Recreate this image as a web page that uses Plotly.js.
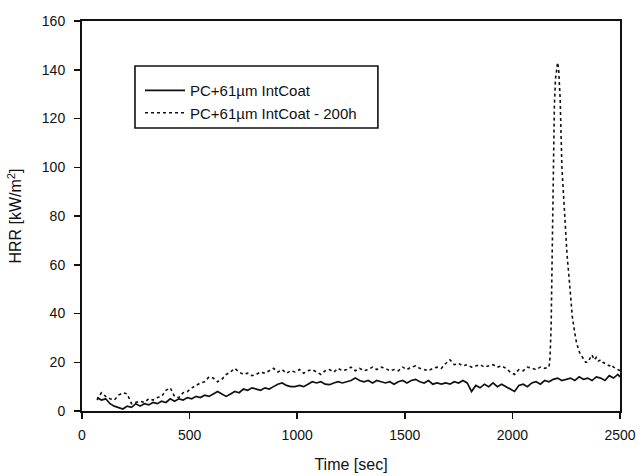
<!DOCTYPE html>
<html>
<head>
<meta charset="utf-8">
<script src="https://cdn.plot.ly/plotly-3.0.1.min.js"></script>
<style>html,body{margin:0;padding:0;background:#fff;}#chart{width:640px;height:476px;}</style>
</head>
<body>
<div id="chart"></div>
<script>
// Series names
var seriesNames = ["PC+61\u00b5m IntCoat", "PC+61\u00b5m IntCoat - 200h"];

// Time values (s) for the unaged sample
var timeA = [70,90,110,130,150,170,190,210,230,250,270,290,310,330,350,370,390,410,430,450,
  470,490,510,530,550,570,590,610,630,650,670,690,710,730,750,770,790,810,830,850,
  870,890,910,930,950,970,990,1010,1030,1050,1070,1090,1110,1130,1150,1170,1190,1210,1230,1250,
  1270,1290,1310,1330,1350,1370,1390,1410,1430,1450,1470,1490,1510,1530,1550,1570,1590,1610,1630,1650,
  1670,1690,1710,1730,1750,1770,1790,1810,1830,1850,1870,1890,1910,1930,1950,1970,1990,2010,2030,2050,
  2070,2090,2110,2130,2150,2170,2190,2210,2230,2250,2270,2290,2310,2330,2350,2370,2390,2410,2430,2450,
  2470,2490,2500];
// HRR (kW/m2) for the unaged sample
var hrrA = [5.5,4.5,5,3,2,1.5,0.8,2,1.5,3,2,3,2.5,3.5,3,4,3.5,5,4,5,
  4.5,5.5,5,6,5.5,6.5,6,7,8,7,6,7,8,7.5,9,8.5,9.5,9,8.5,9.5,
  9,10,11,11.5,10.5,10,10,10.5,10,11,12,11.5,12,11,10.8,11.5,12,11.5,12,12.5,
  13.5,12.5,12,12.5,11.5,12.5,12,11.5,12,11,12,12.5,11.5,12.5,13,12,11.5,12.5,11,11.5,
  11,11.5,11,12,11.5,12.5,11.5,8,10.5,9.5,11,10,11.5,10,11,10,9,8,10.5,11,
  10,11.5,12,11,12.5,12,13,13.5,12.5,13,13.5,12.5,14,13,13.5,12.5,14,13.5,12.5,14.5,
  13.5,15,14];

// Time values (s) for the sample aged 200 h
var timeB = [70,90,110,130,150,170,190,210,230,250,270,290,310,330,350,370,390,410,430,450,
  470,490,510,530,550,570,590,610,630,650,670,690,710,730,750,770,790,810,830,850,
  870,890,910,930,950,970,990,1010,1030,1050,1070,1090,1110,1130,1150,1170,1190,1210,1230,1250,
  1270,1290,1310,1330,1350,1370,1390,1410,1430,1450,1470,1490,1510,1530,1550,1570,1590,1610,1630,1650,
  1670,1690,1710,1730,1750,1770,1790,1810,1830,1850,1870,1890,1910,1930,1950,1970,1990,2010,2030,2050,
  2070,2090,2110,2130,2150,2170,2175,2180,2185,2190,2195,2200,2205,2210,2215,2222,2230,2242,2254,2266,
  2278,2288,2298,2312,2326,2340,2350,2360,2370,2380,2390,2400,2410,2420,2430,2440,2450,2460,2470,2480,
  2490,2500];
// HRR (kW/m2) for the sample aged 200 h
var hrrB = [4.5,7.5,6,5,4.5,6.5,7.5,7,3,3.5,4,3.5,5,4.5,5.5,6,8.5,9.5,6,5.5,
  7.5,8,9.5,10.5,11.5,12,14,13.5,12,13,15,16,17.5,16,15,15.5,14.5,15,16,15.5,
  16.5,17.5,16,17,15.5,16.5,16,17,15.5,16.5,17,16,15,16.5,17,16,17.5,16.5,17,18,
  16.5,17.5,16.5,17,18,17,18,17.5,16.5,17,16.5,18,17,18,18.5,17.5,17,16.5,17.5,18,
  17.5,19.5,21,19,19.5,18.5,19,18,18.5,19,18,18.5,19,18,18.5,17.5,16,15,17,16.5,
  18,17.5,17,18,17.5,18,22,35,66,100,125,136,141,143,140,128,100,80,64,52,
  39,33,28,24,22,20,20,21.5,23,21,22,20.5,21,20,19.5,19,18.5,19,18,17.5,
  17,16.5];

// Axis tick values
var xTicks = [0,500,1000,1500,2000,2500];
var yTicks = [0,20,40,60,80,100,120,140,160];

var traces = [
  {x: timeA, y: hrrA, name: seriesNames[0], type: 'scatter', mode: 'lines',
   line: {color: '#111', width: 1.7, dash: 'solid'}},
  {x: timeB, y: hrrB, name: seriesNames[1], type: 'scatter', mode: 'lines',
   line: {color: '#111', width: 1.6, dash: 'dot'}}
];

var fam = 'Arial, "Liberation Sans", sans-serif';
var font = {family: fam, size: 14, color: '#111'};

var layout = {
  width: 640, height: 476,
  margin: {l: 82, r: 20, t: 21, b: 65},
  paper_bgcolor: '#fff', plot_bgcolor: '#fff',
  font: font,
  showlegend: true,
  legend: {x: 0.1078, y: 0.864, xanchor: 'left', yanchor: 'top',
    borderwidth: 0, bgcolor: 'rgba(255,255,255,0)',
    font: {family: fam, size: 15, color: '#111'},
    tracegroupgap: 0, itemwidth: 40},
  shapes: [
    {type: 'rect', xref: 'paper', yref: 'paper', x0: 0.0985, x1: 0.550, y0: 0.7256, y1: 0.8846,
     line: {color: '#111', width: 1.6}, fillcolor: 'rgba(0,0,0,0)', layer: 'below'}
  ],
  xaxis: {
    range: [0, 2500], tickvals: xTicks, ticktext: xTicks.map(String),
    showgrid: false, zeroline: false, showline: true, linecolor: '#111', linewidth: 2,
    mirror: true, ticks: 'outside', ticklen: 6, tickwidth: 1.5, tickcolor: '#111',
    ticklabelstandoff: 4,
    title: {text: 'Time [sec]', font: {family: fam, size: 16, color: '#111'}, standoff: 17},
    tickfont: font
  },
  yaxis: {
    range: [0, 160], tickvals: yTicks, ticktext: yTicks.map(String),
    showgrid: false, zeroline: false, showline: true, linecolor: '#111', linewidth: 2,
    mirror: true, ticks: 'outside', ticklen: 6, tickwidth: 1.5, tickcolor: '#111',
    ticklabelstandoff: 6,
    title: {text: 'HRR [kW/m<sup>2</sup>]', font: {family: fam, size: 16, color: '#111'}, standoff: 16},
    tickfont: font
  }
};

Plotly.newPlot('chart', traces, layout, {staticPlot: true, displayModeBar: false});
</script>
</body>
</html>
